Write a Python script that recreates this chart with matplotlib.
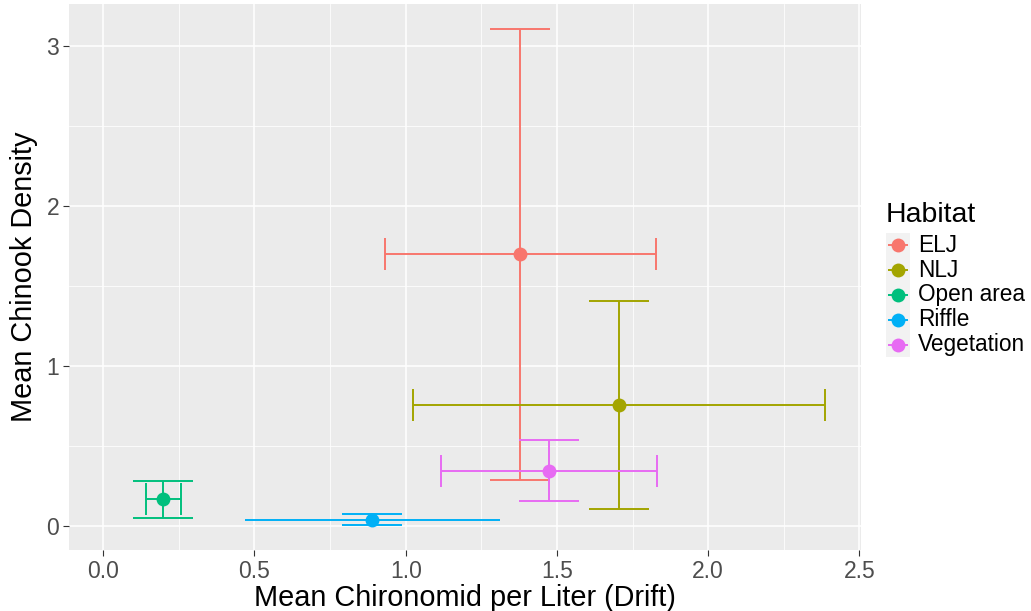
import matplotlib.pyplot as plt
from matplotlib.ticker import MultipleLocator

plt.rcParams['font.family'] = ['Liberation Sans', 'DejaVu Sans']

habitat = ["ELJ", "NLJ", "Open area", "Riffle", "Vegetation"]
colors = ["#F8766D", "#A3A500", "#00BF7D", "#00B0F6", "#E76BF3"]

x_mean = [1.378, 1.705, 0.198, 0.889, 1.473]
x_lo = [0.930, 1.024, 0.140, 0.468, 1.116]
x_hi = [1.826, 2.387, 0.256, 1.311, 1.831]
y_mean = [1.698, 0.758, 0.167, 0.0375, 0.346]
y_lo = [0.289, 0.108, 0.052, 0.004, 0.156]
y_hi = [3.108, 1.408, 0.283, 0.073, 0.536]

cap_x = 0.1   # half width of caps on vertical bars (x units)
cap_y = 0.1   # half height of caps on horizontal bars (y units)
h_caps = [True, True, True, False, True]  # riffle bar has no visible end caps
lw = 1.4

fig = plt.figure(figsize=(10.31, 6.11), dpi=100)
ax = fig.add_axes([69 / 1031, 61 / 611, (861 - 69) / 1031, (550 - 4) / 611])
ax.set_facecolor("#EBEBEB")

# vertical error bars
for i in range(len(habitat)):
    c = colors[i]
    ax.vlines(x_mean[i], y_lo[i], y_hi[i], color=c, lw=lw, zorder=3)
    ax.hlines([y_lo[i], y_hi[i]], x_mean[i] - cap_x, x_mean[i] + cap_x, color=c, lw=lw, zorder=3)
# horizontal error bars
for i in range(len(habitat)):
    c = colors[i]
    ax.hlines(y_mean[i], x_lo[i], x_hi[i], color=c, lw=lw, zorder=3)
    if h_caps[i]:
        ax.vlines([x_lo[i], x_hi[i]], y_mean[i] - cap_y, y_mean[i] + cap_y, color=c, lw=lw, zorder=3)
# points
for i in range(len(habitat)):
    ax.plot(x_mean[i], y_mean[i], "o", color=colors[i], ms=10, mew=0, zorder=4)

ax.set_xlim(-0.113, 2.505)
ax.set_ylim(-0.15, 3.2625)
ax.xaxis.set_major_locator(MultipleLocator(0.5))
ax.xaxis.set_minor_locator(MultipleLocator(0.25))
ax.yaxis.set_major_locator(MultipleLocator(1))
ax.yaxis.set_minor_locator(MultipleLocator(0.5))
ax.xaxis.set_major_formatter(plt.FuncFormatter(lambda v, p: f"{v:.1f}"))
ax.yaxis.set_major_formatter(plt.FuncFormatter(lambda v, p: f"{v:.0f}"))
ax.grid(which="major", color="white", lw=1.1)
ax.grid(which="minor", color="white", lw=0.55)
ax.set_axisbelow(True)
for s in ax.spines.values():
    s.set_visible(False)
ax.tick_params(which="major", length=4, width=0.8, color="#333333",
               labelcolor="#4D4D4D", labelsize=16.5, pad=3)
ax.tick_params(which="minor", length=0)

ax.set_xlabel("Mean Chironomid per Liter (Drift)", fontsize=20.8, labelpad=1)
ax.set_ylabel("Mean Chinook Density", fontsize=20.8, labelpad=6)

# legend
fig.text(886 / 1031, 1 - 222 / 611, "Habitat", fontsize=20.5, ha="left", va="baseline")
lax = fig.add_axes([886 / 1031, 1 - 357 / 611, 24 / 1031, 124 / 611])
lax.set_facecolor("#F2F2F2")
lax.set_xlim(0, 1)
lax.set_ylim(len(habitat), 0)
for i in range(len(habitat)):
    yk = i + 0.5
    lax.hlines(yk, 0.1, 0.9, color=colors[i], lw=lw)
    lax.plot(0.5, yk, "o", color=colors[i], ms=10, mew=0)
    lax.text(1.35, yk, habitat[i], fontsize=16.3, va="center", ha="left",
             transform=lax.transData, clip_on=False)
lax.set_xticks([])
lax.set_yticks([])
for s in lax.spines.values():
    s.set_visible(False)

fig.savefig("out.png", dpi=100)
